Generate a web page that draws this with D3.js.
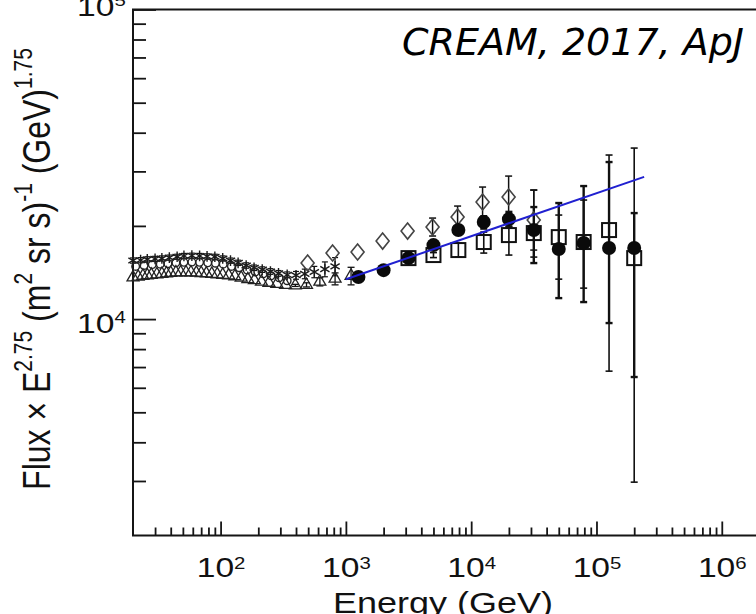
<!DOCTYPE html>
<html>
<head>
<meta charset="utf-8">
<script src="https://cdn.jsdelivr.net/npm/d3@7"></script>
<style>
	body { margin: 0; background: #fff; }
	svg { display: block; }
</style>
</head>
<body>
<svg id="chart" width="756" height="614"></svg>
<script>
// ---- data (energy in GeV, flux x E^2.75) ----

// dense low-energy band: open triangles (lower row)
const triE = [20, 22, 24, 26, 28, 31, 34, 37, 40, 44, 48, 53, 58, 64, 70, 77, 85, 94, 104, 116,
	130, 146, 165, 186, 212, 243, 281, 330, 395, 485, 620, 820, 1100];
const triF = [1.363e4, 1.37e4, 1.38e4, 1.385e4, 1.39e4, 1.395e4, 1.40e4, 1.405e4, 1.41e4, 1.415e4,
	1.415e4, 1.415e4, 1.415e4, 1.412e4, 1.408e4, 1.404e4, 1.40e4, 1.395e4, 1.39e4, 1.383e4,
	1.375e4, 1.36e4, 1.345e4, 1.335e4, 1.32e4, 1.31e4, 1.30e4, 1.29e4, 1.285e4, 1.29e4,
	1.32e4, 1.35e4, 1.38e4];
const triErr = [0, 0, 0, 0, 0, 0, 0, 0, 0, 0, 0, 0, 0, 0, 0, 0, 0, 0, 0, 0,
	0, 0, 0, 0, 0, 0, 0, 0, 0.01e4, 0.02e4, 0.04e4, 0.06e4, 0.09e4];

// dense low-energy band: small open circles (middle row)
const midE = [21, 24.5, 28.5, 33, 38, 44, 51, 59, 68, 79, 91, 105, 122, 141, 163, 189, 219, 253, 293, 340];
const midF = [1.48e4, 1.49e4, 1.50e4, 1.505e4, 1.51e4, 1.52e4, 1.525e4, 1.528e4, 1.525e4, 1.52e4,
	1.515e4, 1.505e4, 1.48e4, 1.465e4, 1.44e4, 1.42e4, 1.40e4, 1.38e4, 1.36e4, 1.33e4];

// dense low-energy band: asterisks (upper row)
const astE = [20, 23, 26, 30, 34, 39, 45, 51, 59, 68, 78, 90, 104, 120, 138, 160, 185, 215,
	250, 290, 340, 400, 470, 560, 680, 820];
const astF = [1.546e4, 1.55e4, 1.56e4, 1.565e4, 1.57e4, 1.58e4, 1.59e4, 1.60e4, 1.603e4, 1.60e4,
	1.595e4, 1.59e4, 1.57e4, 1.545e4, 1.52e4, 1.49e4, 1.465e4, 1.445e4, 1.425e4, 1.405e4,
	1.39e4, 1.385e4, 1.40e4, 1.42e4, 1.45e4, 1.48e4];
const astErr = [0.03e4, 0.03e4, 0.03e4, 0.03e4, 0.03e4, 0.03e4, 0.03e4, 0.03e4, 0.03e4, 0.03e4,
	0.03e4, 0.03e4, 0.03e4, 0.03e4, 0.03e4, 0.03e4, 0.03e4, 0.03e4, 0.03e4, 0.03e4,
	0.03e4, 0.04e4, 0.05e4, 0.06e4, 0.08e4, 0.10e4];

// open diamonds
const diaE = [495, 783, 1240, 1964, 3108, 4920, 7792, 12330, 19900, 31560];
const diaF = [1.517e4, 1.634e4, 1.646e4, 1.786e4, 1.924e4, 1.983e4, 2.136e4, 2.388e4, 2.479e4, 2.089e4];
const diaLo = [1.517e4, 1.634e4, 1.646e4, 1.786e4, 1.924e4, 1.855e4, 1.967e4, 2.136e4, 2.12e4, 1.671e4];
const diaHi = [1.517e4, 1.634e4, 1.646e4, 1.786e4, 1.924e4, 2.12e4, 2.318e4, 2.67e4, 2.897e4, 2.611e4];

// filled circles (CREAM-I+III)
const cirE = [1260, 2000, 3160, 5000, 7900, 12600, 20000, 31600, 50000, 79000, 126000, 200000];
const cirF = [1.367e4, 1.439e4, 1.574e4, 1.734e4, 1.939e4, 2.058e4, 2.104e4, 1.939e4, 1.684e4, 1.761e4, 1.696e4, 1.696e4];
const cirLo = [1.35e4, 1.42e4, 1.55e4, 1.70e4, 1.89e4, 1.96e4, 1.98e4, 1.517e4, 1.169e4, 1.135e4, 0.971e4, 0.65e4];
const cirHi = [1.385e4, 1.46e4, 1.60e4, 1.77e4, 1.99e4, 2.15e4, 2.22e4, 2.301e4, 2.371e4, 2.69e4, 3.216e4, 2.20e4];

// open squares
const sqE = [3160, 5000, 7900, 12600, 20000, 31600, 50000, 79000, 126000, 200000];
const sqF = [1.574e4, 1.61e4, 1.671e4, 1.774e4, 1.868e4, 1.896e4, 1.84e4, 1.774e4, 1.939e4, 1.574e4];
const sqLo = [1.55e4, 1.58e4, 1.586e4, 1.634e4, 1.61e4, 1.586e4, 1.346e4, 1.259e4, 0.679e4, 0.2974e4];
const sqHi = [1.60e4, 1.64e4, 1.761e4, 1.91e4, 1.998e4, 2.611e4, 2.168e4, 2.424e4, 3.388e4, 3.568e4];

// power-law fit (end points)
const fitE = [1000, 2.4e5];
const fitF = [1.345e4, 2.88e4];

// axis ticks
const xMajor = [1e2, 1e3, 1e4, 1e5, 1e6];
const yMajor = [1e4, 1e5];
const minorSteps = [2, 3, 4, 5, 6, 7, 8, 9];

// ---- layout ----
const X_LEFT = 133, DECADE_X = 125.3;
const Y_TOP = 9.5, Y_BOTTOM = 535.5;
const FRAME_COLOR = '#151515';
const TEXT_STRETCH = 'scale(1.2,1)';   // the picture is stretched sideways
const LABEL_FONT = '"Liberation Sans", Arial, Helvetica, sans-serif';

const svg = d3.select('#chart');

const x = d3.scaleLog()
	.domain([20, 3e6])
	.range([X_LEFT, X_LEFT + Math.log10(3e6 / 20) * DECADE_X]);
const y = d3.scaleLog()
	.domain([2e3, 1e5])
	.range([Y_BOTTOM, Y_TOP]);

// minor ticks inside the domain
function minorTicks(scale) {
	const [lo, hi] = scale.domain();
	const out = [];
	for (let p = Math.floor(Math.log10(lo)); p <= Math.ceil(Math.log10(hi)); p++) {
		for (const m of minorSteps) {
			const v = m * Math.pow(10, p);
			if (v > lo * 1.001 && v < hi * 0.999) out.push(v);
		}
	}
	return out;
}

function superLabel(sel, fontSize, supSize, supDy) {
	sel.each(function(d) {
		const t = d3.select(this);
		t.text(null)
			.attr('font-size', fontSize)
			.attr('font-family', LABEL_FONT)
			.attr('fill', '#111');
		t.append('tspan').text('10');
		t.append('tspan')
			.attr('dy', supDy)
			.attr('font-size', supSize)
			.text(Math.round(Math.log10(d)));
	});
}

// ---- x axis ----
const gx = svg.append('g').attr('transform', `translate(0,${Y_BOTTOM})`);
gx.append('g')
	.call(d3.axisBottom(x).tickValues(minorTicks(x)).tickSizeInner(-8).tickSizeOuter(0).tickFormat(''));
gx.append('g').attr('class', 'major')
	.call(d3.axisBottom(x).tickValues(xMajor).tickSizeInner(-14).tickSizeOuter(0));
gx.selectAll('.domain').remove();
gx.selectAll('.tick line').attr('stroke', FRAME_COLOR).attr('stroke-width', 1.8);
gx.selectAll('.major .tick text')
	.attr('y', 41.5).attr('dy', null)
	.attr('transform', TEXT_STRETCH)
	.attr('text-anchor', 'middle')
	.call(superLabel, 28, 17, -8);

// ---- y axis ----
const gy = svg.append('g').attr('transform', `translate(${X_LEFT},0)`);
gy.append('g')
	.call(d3.axisLeft(y).tickValues(minorTicks(y)).tickSizeInner(-13).tickSizeOuter(0).tickFormat(''));
gy.append('g').attr('class', 'major')
	.call(d3.axisLeft(y).tickValues(yMajor).tickSizeInner(-23).tickSizeOuter(0));
gy.selectAll('.domain').remove();
gy.selectAll('.tick line').attr('stroke', FRAME_COLOR).attr('stroke-width', 1.8);
gy.selectAll('.major .tick text')
	.attr('x', -6)
	.attr('dy', d => d === 1e5 ? 6 : 13)   // top label is clipped by the picture edge
	.attr('transform', TEXT_STRETCH)
	.attr('text-anchor', 'end')
	.call(superLabel, 28, 17, -10);

// ---- frame ----
svg.append('path')
	.attr('d', `M756,${Y_TOP}H${X_LEFT}V${Y_BOTTOM}H756`)
	.attr('fill', 'none')
	.attr('stroke', FRAME_COLOR)
	.attr('stroke-width', 2);

// ---- axis titles ----
svg.append('text')
	.attr('transform', `translate(443,613) ${TEXT_STRETCH}`)
	.attr('text-anchor', 'middle')
	.attr('font-family', LABEL_FONT)
	.attr('font-size', 30)
	.attr('fill', '#111')
	.text('Energy (GeV)');

const yTitle = svg.append('text')
	.attr('transform', `translate(50,269) ${TEXT_STRETCH} rotate(-90)`)
	.attr('text-anchor', 'middle')
	.attr('font-family', LABEL_FONT)
	.attr('font-size', 32)
	.attr('fill', '#111');
const yParts = [['Flux \u00d7 E', 0], ['2.75', 1], [' (m', 0], ['2', 1], [' sr s)', 0], ['-1', 1], [' (GeV)', 0], ['1.75', 1]];
let raised = false;
for (const [txt, sup] of yParts) {
	const dy = sup && !raised ? -15 : (!sup && raised ? 15 : 0);
	yTitle.append('tspan')
		.attr('dy', dy)
		.attr('font-size', sup ? 21 : 32)
		.text(txt);
	raised = !!sup;
}

// ---- data layers ----
const plot = svg.append('g');

function rows(E, F, lo, hi) {
	return E.map((e, i) => ({ e, f: F[i], lo: lo ? lo[i] : F[i], hi: hi ? hi[i] : F[i] }));
}

function errorBars(data, width, cap) {
	const g = plot.append('g')
		.attr('stroke', '#111')
		.attr('stroke-width', width);
	const bars = g.selectAll('g').data(data.filter(d => d.hi > d.lo)).join('g');
	bars.append('line')
		.attr('x1', d => x(d.e)).attr('x2', d => x(d.e))
		.attr('y1', d => y(d.hi)).attr('y2', d => y(d.lo));
	bars.append('line')
		.attr('x1', d => x(d.e) - cap).attr('x2', d => x(d.e) + cap)
		.attr('y1', d => y(d.hi)).attr('y2', d => y(d.hi));
	bars.append('line')
		.attr('x1', d => x(d.e) - cap).attr('x2', d => x(d.e) + cap)
		.attr('y1', d => y(d.lo)).attr('y2', d => y(d.lo));
}

const triRows = rows(triE, triF, triF.map((f, i) => f - triErr[i]), triF.map((f, i) => f + triErr[i]));
const midRows = rows(midE, midF);
const astRows = rows(astE, astF, astF.map((f, i) => f - astErr[i]), astF.map((f, i) => f + astErr[i]));
const diaRows = rows(diaE, diaF, diaLo, diaHi);
const cirRows = rows(cirE, cirF, cirLo, cirHi);
const sqRows = rows(sqE, sqF, sqLo, sqHi);

errorBars(astRows, 1.2, 3);
errorBars(triRows, 1.3, 3.5);
errorBars(diaRows, 1.5, 3.5);
errorBars(sqRows, 1.6, 3.5);
errorBars(cirRows, 2.4, 3.5);

// asterisks
plot.append('g').selectAll('path').data(astRows).join('path')
	.attr('transform', d => `translate(${x(d.e)},${y(d.f)})`)
	.attr('d', d3.symbol(d3.symbolAsterisk, 80))
	.attr('fill', 'none')
	.attr('stroke', '#1a1a1a')
	.attr('stroke-width', 1.4);

// small open circles
plot.append('g').selectAll('circle').data(midRows).join('circle')
	.attr('cx', d => x(d.e)).attr('cy', d => y(d.f))
	.attr('r', 3.8)
	.attr('fill', 'none')
	.attr('stroke', '#222')
	.attr('stroke-width', 1.4);

// triangles
plot.append('g').selectAll('path').data(triRows).join('path')
	.attr('transform', d => `translate(${x(d.e)},${y(d.f)})`)
	.attr('d', d3.symbol(d3.symbolTriangle, 62))
	.attr('fill', 'none')
	.attr('stroke', '#222')
	.attr('stroke-width', 1.3);

// diamonds
plot.append('g').selectAll('path').data(diaRows).join('path')
	.attr('transform', d => `translate(${x(d.e)},${y(d.f)})`)
	.attr('d', 'M0,-8L6.5,0L0,8L-6.5,0Z')
	.attr('fill', 'none')
	.attr('stroke', '#444')
	.attr('stroke-width', 1.6);

// open squares
plot.append('g').selectAll('rect').data(sqRows).join('rect')
	.attr('x', d => x(d.e) - 7).attr('y', d => y(d.f) - 7)
	.attr('width', 14).attr('height', 14)
	.attr('fill', 'none')
	.attr('stroke', '#111')
	.attr('stroke-width', 2);

// filled circles
plot.append('g').selectAll('circle').data(cirRows).join('circle')
	.attr('cx', d => x(d.e)).attr('cy', d => y(d.f))
	.attr('r', 7)
	.attr('fill', '#0a0a0a');

// fit line
plot.append('path')
	.datum(fitE.map((e, i) => [e, fitF[i]]))
	.attr('d', d3.line().x(d => x(d[0])).y(d => y(d[1])))
	.attr('fill', 'none')
	.attr('stroke', '#2020d0')
	.attr('stroke-width', 2);

// ---- annotation ----
svg.append('text')
	.attr('x', 402).attr('y', 55)
	.attr('font-family', '"DejaVu Sans", Verdana, sans-serif')
	.attr('font-style', 'italic')
	.attr('font-size', 38)
	.attr('fill', '#000')
	.text('CREAM, 2017, ApJ');
</script>
</body>
</html>
